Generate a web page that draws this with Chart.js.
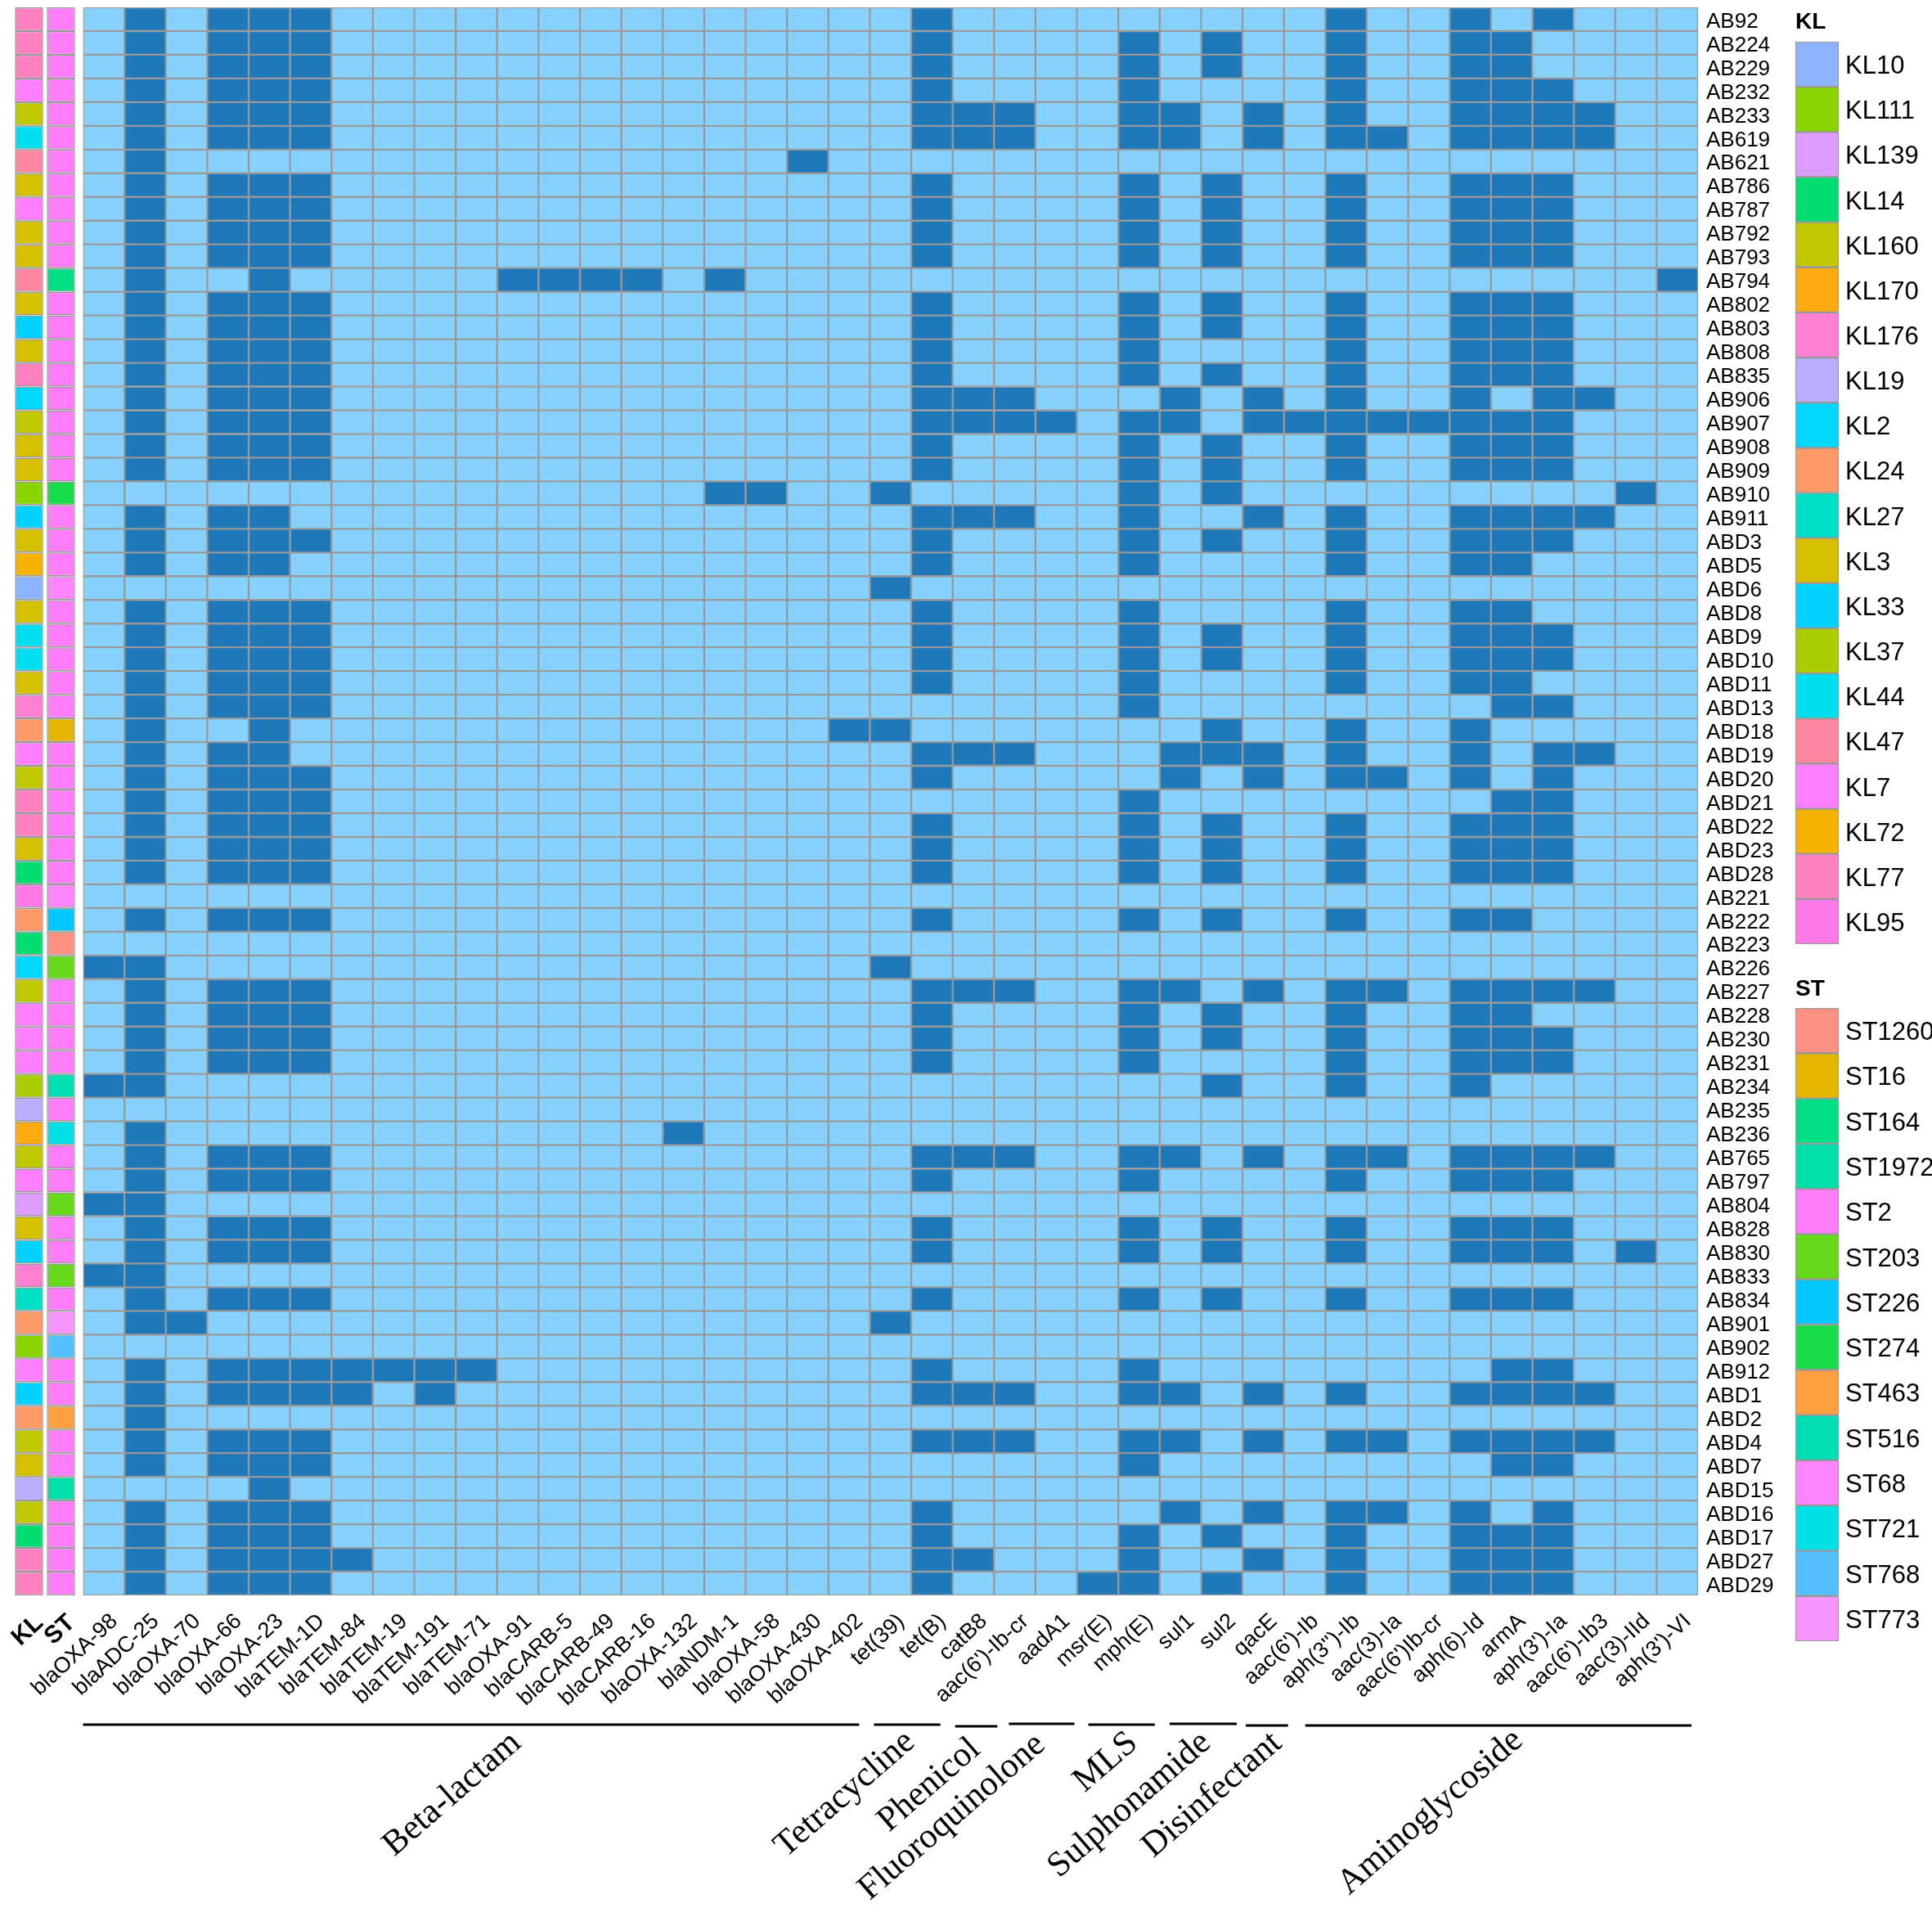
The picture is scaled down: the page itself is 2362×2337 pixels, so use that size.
<!DOCTYPE html>
<html lang="en">
<head>
  <meta charset="UTF-8">
  <title>Resistance genes heatmap</title>
  <script src="https://cdn.jsdelivr.net/npm/chart.js"></script>
  <style>
    body { margin: 0; background: #fff; width: 2362px; height: 2337px; overflow: hidden; }
    canvas { position: absolute; }
    #mainChart { left: 0; top: 0; }
    #stripChart { left: 0; top: 0; }
    #klChart { left: 2195px; top: 0; }
    #stChart { left: 2195px; top: 1180px; }
  </style>
</head>
<body>
  <canvas id="mainChart" width="2362" height="2337"></canvas>
  <canvas id="stripChart" width="100" height="2060"></canvas>
  <canvas id="klChart" width="167" height="1154"></canvas>
  <canvas id="stChart" width="167" height="826"></canvas>

  <script>
    const genes = ["blaOXA-98", "blaADC-25", "blaOXA-70", "blaOXA-66", "blaOXA-23", "blaTEM-1D", "blaTEM-84", "blaTEM-19", "blaTEM-191", "blaTEM-71",
      "blaOXA-91", "blaCARB-5", "blaCARB-49", "blaCARB-16", "blaOXA-132", "blaNDM-1", "blaOXA-58", "blaOXA-430", "blaOXA-402", "tet(39)",
      "tet(B)", "catB8", "aac(6')-Ib-cr", "aadA1", "msr(E)", "mph(E)", "sul1", "sul2", "qacE", "aac(6')-Ib",
      "aph(3'')-Ib", "aac(3)-Ia", "aac(6')Ib-cr", "aph(6)-Id", "armA", "aph(3')-Ia", "aac(6')-Ib3", "aac(3)-IId", "aph(3')-VI"];

    const isolates = ["AB92", "AB224", "AB229", "AB232", "AB233", "AB619", "AB621", "AB786", "AB787", "AB792", "AB793", "AB794",
      "AB802", "AB803", "AB808", "AB835", "AB906", "AB907", "AB908", "AB909", "AB910", "AB911",
      "ABD3", "ABD5", "ABD6", "ABD8", "ABD9", "ABD10", "ABD11", "ABD13", "ABD18", "ABD19", "ABD20", "ABD21", "ABD22", "ABD23", "ABD28",
      "AB221", "AB222", "AB223", "AB226", "AB227", "AB228", "AB230", "AB231", "AB234", "AB235", "AB236",
      "AB765", "AB797", "AB804", "AB828", "AB830", "AB833", "AB834", "AB901", "AB902", "AB912",
      "ABD1", "ABD2", "ABD4", "ABD7", "ABD15", "ABD16", "ABD17", "ABD27", "ABD29"];

    // index of the genes found in each isolate, same order as isolates
    const found = [
      [1,3,4,5,20,30,33,35],
      [1,3,4,5,20,25,27,30,33,34],
      [1,3,4,5,20,25,27,30,33,34],
      [1,3,4,5,20,25,30,33,34,35],
      [1,3,4,5,20,21,22,25,26,28,30,33,34,35,36],
      [1,3,4,5,20,21,22,25,26,28,30,31,33,34,35,36],
      [1,17],
      [1,3,4,5,20,25,27,30,33,34,35],
      [1,3,4,5,20,25,27,30,33,34,35],
      [1,3,4,5,20,25,27,30,33,34,35],
      [1,3,4,5,20,25,27,30,33,34,35],
      [1,4,10,11,12,13,15,38],
      [1,3,4,5,20,25,27,30,33,34,35],
      [1,3,4,5,20,25,27,30,33,34,35],
      [1,3,4,5,20,25,30,33,34,35],
      [1,3,4,5,20,25,27,30,33,34,35],
      [1,3,4,5,20,21,22,26,28,30,33,35,36],
      [1,3,4,5,20,21,22,23,25,26,28,29,30,31,32,33,34,35],
      [1,3,4,5,20,25,27,30,33,34,35],
      [1,3,4,5,20,25,27,30,33,34,35],
      [15,16,19,25,27,37],
      [1,3,4,20,21,22,25,28,30,33,34,35,36],
      [1,3,4,5,20,25,27,30,33,34,35],
      [1,3,4,20,25,30,33,34],
      [19],
      [1,3,4,5,20,25,30,33,34],
      [1,3,4,5,20,25,27,30,33,34,35],
      [1,3,4,5,20,25,27,30,33,34,35],
      [1,3,4,5,20,25,30,33,34],
      [1,3,4,5,25,34,35],
      [1,4,18,19,27,30,33],
      [1,3,4,20,21,22,26,27,28,30,33,35,36],
      [1,3,4,5,20,26,28,30,31,33,35],
      [1,3,4,5,25,34,35],
      [1,3,4,5,20,25,27,30,33,34,35],
      [1,3,4,5,20,25,27,30,33,34,35],
      [1,3,4,5,20,25,27,30,33,34,35],
      [],
      [1,3,4,5,20,25,27,30,33,34],
      [],
      [0,1,19],
      [1,3,4,5,20,21,22,25,26,28,30,31,33,34,35,36],
      [1,3,4,5,20,25,27,30,33,34],
      [1,3,4,5,20,25,27,30,33,34,35],
      [1,3,4,5,20,25,30,33,34,35],
      [0,1,27,30,33],
      [],
      [1,14],
      [1,3,4,5,20,21,22,25,26,28,30,31,33,34,35,36],
      [1,3,4,5,20,25,30,33,34,35],
      [0,1],
      [1,3,4,5,20,25,27,30,33,34,35],
      [1,3,4,5,20,25,27,30,33,34,35,37],
      [0,1],
      [1,3,4,5,20,25,27,30,33,34,35],
      [1,2,19],
      [],
      [1,3,4,5,6,7,8,9,20,25,34,35],
      [1,3,4,5,6,8,20,21,22,25,26,28,30,33,34,35,36],
      [1],
      [1,3,4,5,20,21,22,25,26,28,30,31,33,34,35,36],
      [1,3,4,5,25,34,35],
      [4],
      [1,3,4,5,20,26,28,30,31,33,35],
      [1,3,4,5,20,25,27,30,33,34,35],
      [1,3,4,5,6,20,21,25,28,30,33,34,35],
      [1,3,4,5,20,24,25,27,30,33,34,35]
    ];

    const klTypes = ["KL10", "KL111", "KL139", "KL14", "KL160", "KL170", "KL176", "KL19", "KL2", "KL24", "KL27", "KL3", "KL33", "KL37", "KL44", "KL47", "KL7", "KL72", "KL77", "KL95"];
    const klColors = ["#8DB4FF", "#8BD400", "#DC9DFF", "#00DC70", "#C1C700", "#FFAA10", "#FF7FD3", "#BBADFF", "#00D6FF", "#FF9A68", "#00E0C6", "#D6BF00", "#00D2FF", "#A9CD00", "#00DEF0", "#FF86A0", "#FF80FF", "#F6B200", "#FF80BE", "#FF79E8"];
    const stTypes = ["ST1260", "ST16", "ST164", "ST1972", "ST2", "ST203", "ST226", "ST274", "ST463", "ST516", "ST68", "ST721", "ST768", "ST773"];
    const stColors = ["#FF9082", "#E6B500", "#00DF85", "#00DFA8", "#FF7DF8", "#66DA1A", "#00C8FF", "#18DC4A", "#FFA040", "#00DEB4", "#FF85FF", "#00E0E6", "#55C0FF", "#F794FF"];

    const klByIsolate = ["KL77", "KL77", "KL77", "KL7", "KL160", "KL44", "KL47", "KL3", "KL7", "KL3", "KL3", "KL47",
      "KL3", "KL33", "KL3", "KL77", "KL2", "KL160", "KL3", "KL3", "KL111", "KL33",
      "KL3", "KL72", "KL10", "KL3", "KL44", "KL44", "KL3", "KL176", "KL24", "KL7", "KL160", "KL77", "KL77", "KL3", "KL14",
      "KL95", "KL24", "KL14", "KL2", "KL160", "KL7", "KL7", "KL7", "KL37", "KL19", "KL170",
      "KL160", "KL7", "KL139", "KL3", "KL33", "KL176", "KL27", "KL24", "KL111", "KL7",
      "KL33", "KL24", "KL160", "KL3", "KL19", "KL160", "KL14", "KL77", "KL77"];
    const stByIsolate = ["ST2", "ST2", "ST2", "ST2", "ST2", "ST2", "ST2", "ST2", "ST2", "ST2", "ST2", "ST164",
      "ST2", "ST2", "ST2", "ST2", "ST2", "ST2", "ST2", "ST2", "ST274", "ST2",
      "ST2", "ST2", "ST68", "ST2", "ST2", "ST2", "ST2", "ST2", "ST16", "ST2", "ST2", "ST2", "ST2", "ST2", "ST2",
      "ST68", "ST226", "ST1260", "ST203", "ST2", "ST2", "ST2", "ST2", "ST516", "ST2", "ST721",
      "ST2", "ST2", "ST203", "ST2", "ST2", "ST203", "ST2", "ST773", "ST768", "ST2",
      "ST2", "ST463", "ST2", "ST2", "ST1972", "ST2", "ST2", "ST2", "ST2"];

    const drugClasses = ["Beta-lactam", "Tetracycline", "Phenicol", "Fluoroquinolone", "MLS", "Sulphonamide", "Disinfectant", "Aminoglycoside"];
    const classFirstGene = [0, 19, 21, 22, 24, 26, 28, 29];
    const classLastGene = [18, 20, 21, 23, 25, 27, 28, 38];

    const ABSENT = "#87D1FF";
    const PRESENT = "#1F78B9";
    const CELL_BORDER = "#999999";
    const sans = "'Liberation Sans', Arial, sans-serif";

    // hand drawn rules under the gene names: [left inset, right inset, y]
    const ruleLayout = [[0, -13, 2108], [5, -15, 2108], [3, 4, 2110], [18, -3, 2107], [14, -6, 2108], [12, -7, 2107], [4, 5, 2109], [26, -8, 2109]];
    // centre of each class name
    const classLabelLayout = [[553, 2193], [1033, 2193], [1136, 2182], [1164, 2221], [1352, 2154], [1381, 2206], [1482, 2194], [1749, 2215]];

    // one floating bar per cell, one dataset per row
    function rowDataset(rowIndex, cols, colorFor, borderWidth) {
      return {
        data: cols.map(() => [rowIndex, rowIndex + 1]),
        backgroundColor: cols.map(colorFor),
        borderColor: CELL_BORDER,
        borderWidth: borderWidth,
        borderSkipped: false,
        categoryPercentage: 1,
        barPercentage: 1,
        grouped: false
      };
    }

    function noAxisPadding(axis) {
      axis.paddingTop = 0;
      axis.paddingBottom = 0;
      axis.paddingLeft = 0;
      axis.paddingRight = 0;
    }

    function rowScale(rowLabels, fontSize, sideWidth, padding, labelOffset) {
      return {
        type: "linear",
        position: "right",
        reverse: true,
        min: 0,
        max: rowLabels.length,
        grid: { display: false, drawTicks: false },
        border: { display: false },
        afterBuildTicks: axis => { axis.ticks = rowLabels.map((_, i) => ({ value: i + 0.5 })); },
        afterFit: axis => { axis.width = sideWidth; noAxisPadding(axis); },
        ticks: {
          autoSkip: false,
          color: "#000",
          padding: padding,
          labelOffset: labelOffset,
          font: { family: sans, size: fontSize },
          callback: (value, i) => rowLabels[i]
        }
      };
    }

    const baseOptions = {
      responsive: false,
      animation: false,
      devicePixelRatio: 1,
      events: []
    };

    const drugClassPlugin = {
      id: "drugClasses",
      afterDraw(chart) {
        const ctx = chart.ctx;
        const x = chart.scales.x;
        const half = (x.getPixelForValue(1) - x.getPixelForValue(0)) / 2;
        ctx.save();
        ctx.strokeStyle = "#000";
        ctx.lineWidth = 3;
        drugClasses.forEach((name, i) => {
          const [inL, inR, y] = ruleLayout[i];
          ctx.beginPath();
          ctx.moveTo(x.getPixelForValue(classFirstGene[i]) - half + inL, y);
          ctx.lineTo(x.getPixelForValue(classLastGene[i]) + half + inR, y);
          ctx.stroke();
        });
        ctx.fillStyle = "#000";
        ctx.textAlign = "center";
        ctx.textBaseline = "middle";
        ctx.font = "43px 'Liberation Serif', serif";
        drugClasses.forEach((name, i) => {
          ctx.save();
          ctx.translate(classLabelLayout[i][0], classLabelLayout[i][1]);
          ctx.rotate(-41 * Math.PI / 180);
          ctx.fillText(name, 0, 0);
          ctx.restore();
        });
        ctx.restore();
      }
    };

    new Chart(document.getElementById("mainChart"), {
      type: "bar",
      data: {
        labels: genes,
        datasets: isolates.map((_, r) => rowDataset(r, genes, (g, c) => found[r].includes(c) ? PRESENT : ABSENT, 1.5))
      },
      options: {
        ...baseOptions,
        layout: { padding: { left: 101.5, top: 9, right: 0, bottom: 0 } },
        plugins: { legend: { display: false }, title: { display: false }, tooltip: { enabled: false } },
        scales: {
          x: {
            grid: { display: false, drawTicks: false },
            border: { display: false },
            afterFit: axis => { axis.height = 387; noAxisPadding(axis); },
            ticks: {
              autoSkip: false,
              minRotation: 43,
              maxRotation: 43,
              padding: 16,
              labelOffset: 13,
              color: "#000",
              font: { family: sans, size: 27 }
            }
          },
          y: rowScale(isolates, 26, 286, 10, 3)
        }
      },
      plugins: [drugClassPlugin]
    });

    // KL / ST annotation strip
    new Chart(document.getElementById("stripChart"), {
      type: "bar",
      data: {
        labels: ["KL", "ST"],
        datasets: isolates.map((_, r) => {
          const ds = rowDataset(r, ["KL", "ST"], (name, c) => c === 0
            ? klColors[klTypes.indexOf(klByIsolate[r])]
            : stColors[stTypes.indexOf(stByIsolate[r])], 1.5);
          ds.barPercentage = 0.885;
          return ds;
        })
      },
      options: {
        ...baseOptions,
        layout: { padding: { left: 16, top: 9, right: 6, bottom: 0 } },
        plugins: { legend: { display: false }, title: { display: false }, tooltip: { enabled: false } },
        scales: {
          x: {
            grid: { display: false, drawTicks: false },
            border: { display: false },
            afterFit: axis => { axis.height = 110; noAxisPadding(axis); },
            ticks: {
              autoSkip: false,
              minRotation: 43,
              maxRotation: 43,
              padding: 16,
              labelOffset: 13,
              color: "#000",
              font: { family: sans, size: 30, weight: "bold" }
            }
          },
          y: { display: false, reverse: true, min: 0, max: isolates.length }
        }
      }
    });

    function legendChart(canvasId, title, types, colors, padTop, padBottom) {
      new Chart(document.getElementById(canvasId), {
        type: "bar",
        data: {
          labels: [title],
          datasets: types.map((_, r) => rowDataset(r, [title], () => colors[r], 1.5))
        },
        options: {
          ...baseOptions,
          plugins: {
            legend: { display: false },
            tooltip: { enabled: false },
            title: {
              display: true,
              text: title,
              align: "start",
              color: "#000",
              font: { family: sans, size: 28, weight: "bold", lineHeight: 1 },
              padding: { top: padTop, bottom: padBottom }
            }
          },
          scales: {
            x: { display: false },
            y: rowScale(types, 31, 114, 8, 3)
          }
        }
      });
    }

    legendChart("klChart", "KL", klTypes, klColors, 13, 10);
    legendChart("stChart", "ST", stTypes, stColors, 15, 9);
  </script>
</body>
</html>
